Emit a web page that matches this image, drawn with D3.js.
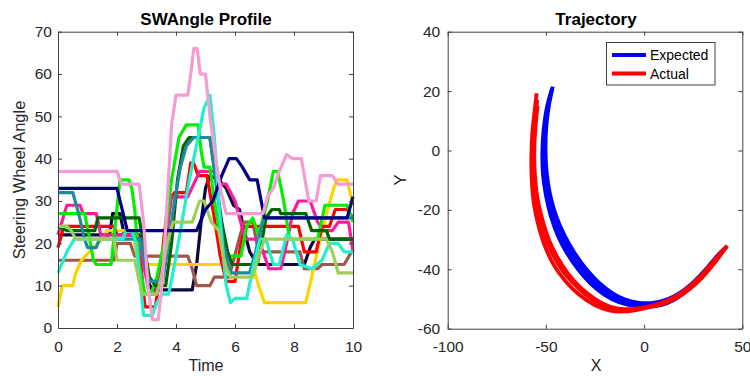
<!DOCTYPE html>
<html><head><meta charset="utf-8">
<script src="https://cdn.jsdelivr.net/npm/d3@7"></script>
<style>
body{margin:0;background:#fff}
svg{display:block}
text{font-family:"Liberation Sans",Arial,Helvetica,sans-serif}
</style>
</head><body>
<svg id="chart" width="750" height="376"></svg>
<script>
// ---------------- Left chart data: [time, steering wheel angle] ----------------
const timeTicks = [0, 2, 4, 6, 8, 10];
const angleTicks = [0, 10, 20, 30, 40, 50, 60, 70];

const darkNavy = [[0,22],[1.75,22],[1.85,27],[2.1,27],[2.25,22],[2.75,22],[2.9,16],[3.05,11],[3.2,9],[4.55,9],[4.7,15],[4.85,25],[5.0,33],[5.15,36],[5.45,35],[5.7,33],[5.95,29],[6.15,28],[6.35,22],[6.5,18],[6.75,15],[8.35,15],[8.55,19],[8.7,21],[10,21]];
const brown = [[0,16],[1.9,16],[2.0,20],[2.45,20],[2.6,17],[4.4,17],[4.55,14],[4.7,10],[5.15,10],[5.3,12],[5.8,12],[6.1,20],[6.3,25],[6.6,25],[6.8,18],[8.2,18],[8.35,14],[8.8,14],[8.95,15],[9.7,15],[9.95,18],[10,18]];
const yellow = [[0,5],[0.15,10],[0.5,10],[0.6,13],[0.8,16],[1.2,19],[1.5,21],[1.65,23],[2.5,23],[2.75,15],[6.6,15],[6.8,10],[7.0,6],[8.4,6],[8.6,12],[8.85,20],[9.1,27],[9.35,33],[9.45,35],[9.8,35],[9.9,32],[10,29]];
const red = [[0,19],[0.2,24],[1.9,24],[2.0,22],[2.7,22],[2.85,12],[2.95,5],[3.3,5],[3.45,12],[3.6,22],[3.75,30],[3.95,32],[4.35,32],[4.5,39],[4.6,39],[4.75,36],[5.05,36],[5.3,26],[5.5,17],[5.7,11],[6.0,11],[6.2,20],[6.35,24],[8.15,24],[8.35,18],[8.75,18],[8.95,24],[9.2,24],[9.4,28],[9.8,28],[10,26]];
const deepPink = [[0,22],[0.3,29],[0.75,29],[0.85,27],[1.3,27],[1.45,22],[2.7,22],[2.9,15],[3.1,8],[3.3,8],[3.5,15],[3.7,23],[3.85,31],[4.4,31],[4.6,34],[4.8,37],[5.3,37],[5.5,34],[5.7,34],[6.0,30],[6.35,21],[6.8,21],[7.15,14],[7.55,14],[7.75,20],[7.95,27],[8.15,30],[8.55,30],[8.8,25],[9.0,23],[9.3,23],[9.5,25],[9.85,25],[10,18]];
const green = [[0,27],[0.9,27],[1.05,22],[1.2,16],[1.3,15],[1.8,15],[1.95,25],[2.1,35],[2.4,35],[2.5,33],[2.6,28],[2.75,15],[2.95,8],[3.15,8],[3.35,12],[3.6,20],[3.85,35],[4.1,45],[4.35,48],[4.75,48],[4.85,42],[4.95,38],[5.15,38],[5.3,30],[5.5,22],[5.8,17],[6.2,17],[6.4,24],[6.6,26],[6.8,22],[7.1,30],[7.3,37],[7.45,37],[7.65,30],[7.85,21],[8.8,21],[9.05,29],[9.8,29],[10,25]];
const darkGreen = [[0,24],[0.3,23],[1.25,23],[1.35,26],[2.75,26],[2.9,20],[3.1,12],[3.3,10],[3.65,10],[3.85,20],[4.05,35],[4.25,43],[4.45,45],[5.15,45],[5.35,35],[5.55,25],[5.75,18],[5.9,15],[6.75,15],[6.9,20],[7.05,26],[7.25,28],[7.5,28],[7.55,27],[8.4,27],[8.6,23],[9.1,23],[9.2,21],[10,21]];
const teal = [[0,32],[0.5,32],[0.7,27],[0.9,21],[1.0,19],[1.3,19],[1.4,21],[2.8,21],[2.95,15],[3.1,11],[3.55,11],[3.75,20],[3.95,30],[4.15,38],[4.35,43],[4.6,45],[5.15,45],[5.35,35],[5.6,20],[5.85,13],[6.5,13],[6.7,18],[6.9,24],[7.0,26],[10,26]];
const aqua = [[0,13],[0.3,18],[0.55,21],[2.2,21],[2.3,23],[2.5,23],[2.65,20],[2.8,10],[2.9,3],[3.2,3],[3.35,6],[3.55,8],[3.75,8],[3.95,15],[4.2,25],[4.45,35],[4.75,45],[4.95,52],[5.15,55],[5.3,45],[5.5,25],[5.7,10],[5.85,6],[6.0,7],[6.4,7],[6.6,14],[6.85,21],[7.05,21],[7.3,15],[7.5,15],[7.75,22],[7.95,21],[8.2,15],[8.6,14],[8.95,16],[9.2,20],[9.5,20],[9.7,18],[10,18]];
const yellowGreen = [[0,24],[0.3,24],[0.45,23],[0.6,21],[1.9,21],[2.0,16],[2.6,16],[2.85,8],[3.35,8],[3.5,12],[3.7,20],[3.9,25],[4.55,25],[4.8,30],[4.95,30],[5.2,25],[5.45,23],[5.65,15],[5.85,12],[6.6,12],[6.8,17],[7.0,21],[9.1,21],[9.3,18],[9.5,13],[10,13]];
const navy = [[0,33],[2.0,33],[2.35,23],[4.7,23],[5.0,28],[5.25,30],[5.55,36],[5.8,40],[6.05,40],[6.25,38],[6.5,35],[6.75,35],[7.0,26],[9.8,26],[10,31]];
const lightPink = [[0,37],[2.0,37],[2.15,34],[2.75,34],[2.9,25],[3.05,10],[3.2,2],[3.4,2],[3.55,12],[3.7,30],[3.85,48],[4.0,55],[4.4,55],[4.5,60],[4.6,66],[4.72,66],[4.82,60],[5.0,60],[5.15,50],[5.35,40],[5.5,33],[5.7,27],[6.95,27],[7.1,31],[7.3,33],[7.5,37],[7.75,41],[7.95,40],[8.25,40],[8.5,30],[8.75,30],[8.9,36],[9.3,36],[9.5,34],[10,34]];

const leftSeries = [
  {data: darkNavy, color: "#08083e"},
  {data: brown, color: "#a0584b"},
  {data: yellow, color: "#ffd200"},
  {data: red, color: "#ff0000"},
  {data: deepPink, color: "#ff1a9c"},
  {data: green, color: "#00f000"},
  {data: darkGreen, color: "#006400"},
  {data: teal, color: "#1e8a9e"},
  {data: aqua, color: "#20f0cc"},
  {data: yellowGreen, color: "#9bcf5a"},
  {data: navy, color: "#000080"},
  {data: lightPink, color: "#f59bd5"}
];

// ---------------- Right chart data: [X, Y] ----------------
const xTicksR = [-100, -50, 0, 50];
const yTicksR = [-60, -40, -20, 0, 20, 40];

const expected1 = [[-46.5,21.5],[-48.5,15],[-49.8,8],[-50.2,0],[-49.5,-8],[-47.8,-15],[-44.8,-22],[-40.6,-28.5],[-35.4,-34.5],[-29.4,-40],[-23,-44.5],[-16.2,-48],[-9.3,-50.3],[-2.5,-51.3],[4.5,-51.3],[11.5,-50.2],[18,-48],[24,-45],[30,-41],[35,-37.2],[39,-34.2],[42,-32.5]];
const expected2 = [[-47,20.5],[-49.5,14.5],[-51,8],[-51.8,0],[-51.5,-8],[-50,-15],[-47.5,-22],[-44,-28.5],[-39.3,-34.5],[-33.6,-40],[-27.2,-44.8],[-20.3,-48.5],[-13,-51],[-5.5,-52.3],[2,-52.6],[9,-52],[15.5,-50.2],[21.5,-47.4],[27.5,-43.6],[32.5,-39.8],[37,-36.2],[41.5,-32.8]];
const expected3 = [[-46.8,21],[-49,14.8],[-50.4,8],[-51,0],[-50.5,-8],[-48.9,-15],[-46.1,-22],[-42.2,-28.5],[-37.3,-34.5],[-31.4,-40],[-25,-44.7],[-18.2,-48.3],[-11.1,-50.7],[-4,-51.8],[3.2,-52],[10.2,-51.1],[16.8,-49.1],[22.8,-46.2],[28.8,-42.3],[33.8,-38.5],[38,-35.2],[41.8,-32.6]];
const actual1 = [[-54.2,15],[-55.3,8],[-55.9,0],[-55.6,-8],[-54.3,-16],[-51.9,-23],[-48.5,-30],[-44.1,-36],[-38.7,-41.5],[-32.2,-46.3],[-24.9,-50],[-17.2,-52.6],[-9.5,-53.4],[-2.3,-53.1],[4.8,-52.1],[11.8,-50.7],[18.3,-48.5],[24.3,-45.5],[30.3,-41.6],[35.3,-37.7],[39.4,-34.5],[42,-32.3]];
const actual2 = [[-54.7,19.3],[-55.8,13],[-56.9,6],[-57.4,-2],[-57.2,-10],[-56.1,-18],[-53.9,-25],[-50.6,-32],[-46,-38.5],[-40,-44],[-33,-48.6],[-25.2,-52],[-17.3,-53.9],[-10,-54.2],[-3,-53.6],[4,-52.6],[11,-51.3],[17.5,-49.3],[23.5,-46.5],[29.5,-42.8],[34.5,-39],[38.8,-35.3],[42.3,-32]];
const actual3 = [[-54.4,17],[-55.5,10],[-56.4,2],[-56.5,-6],[-55.7,-14],[-53.8,-21],[-50.9,-28],[-46.9,-34.5],[-41.8,-40.2],[-35.5,-45],[-28.2,-49.3],[-20.4,-52.4],[-12.5,-53.8],[-5.5,-53.5],[1.5,-52.7],[8.5,-51.4],[15,-49.5],[21,-46.9],[27,-43.4],[32.5,-39.4],[37,-35.9],[41,-32.9]];

const legendLabels = ["Expected", "Actual"];
const expectedColor = "#0000ff", actualColor = "#ff0000";

// ---------------- Drawing ----------------
const svg = d3.select("#chart");
const axisColor = "#404040", textColor = "#262626";

function box(g, x, y, xt, yt, padX, padY) {
  const [x0, x1] = x.range(), [y0, y1] = y.range();
  const fmt = d => String(d);
  const gb = g.append("g").attr("transform", `translate(0,${y0})`)
    .call(d3.axisBottom(x).tickValues(xt).tickFormat(fmt).tickSizeInner(-4).tickSizeOuter(0).tickPadding(padX));
  const gt = g.append("g").attr("transform", `translate(0,${y1})`)
    .call(d3.axisTop(x).tickValues(xt).tickFormat("").tickSizeInner(-4).tickSizeOuter(0));
  const gl = g.append("g").attr("transform", `translate(${x0},0)`)
    .call(d3.axisLeft(y).tickValues(yt).tickFormat(fmt).tickSizeInner(-4).tickSizeOuter(0).tickPadding(padY));
  const gr = g.append("g").attr("transform", `translate(${x1},0)`)
    .call(d3.axisRight(y).tickValues(yt).tickFormat("").tickSizeInner(-4).tickSizeOuter(0));
  [gb, gt, gl, gr].forEach(a => {
    a.selectAll("path.domain").attr("stroke", axisColor).attr("stroke-width", 1);
    a.selectAll(".tick line").attr("stroke", axisColor).attr("stroke-width", 1);
    a.selectAll("text").attr("fill", textColor).style("font-size", "15.5px")
      .style("font-family", '"Liberation Sans", Arial, sans-serif');
  });
}

// Left chart
const xL = d3.scaleLinear().domain([0, 10]).range([58, 353]);
const yL = d3.scaleLinear().domain([0, 70]).range([328, 31.7]);
const gL = svg.append("g");
const lineL = d3.line().x(d => xL(d[0])).y(d => yL(d[1]));
gL.selectAll("path.series").data(leftSeries).join("path")
  .attr("class", "series")
  .attr("d", d => lineL(d.data))
  .attr("fill", "none")
  .attr("stroke", d => d.color)
  .attr("stroke-width", 3.2)
  .attr("stroke-linejoin", "round");
box(gL, xL, yL, timeTicks, angleTicks, 12.5, 6);
gL.append("text").attr("x", 206).attr("y", 25).attr("text-anchor", "middle")
  .style("font-size", "17px").style("font-weight", "bold").attr("fill", "#000").text("SWAngle Profile");
gL.append("text").attr("x", 206).attr("y", 371).attr("text-anchor", "middle")
  .style("font-size", "16px").attr("fill", textColor).text("Time");
gL.append("text").attr("transform", "translate(25,180) rotate(-90)").attr("text-anchor", "middle")
  .style("font-size", "16.5px").attr("fill", textColor).text("Steering Wheel Angle");

// Right chart
const xR = d3.scaleLinear().domain([-100, 50]).range([447.7, 742.3]);
const yR = d3.scaleLinear().domain([-60, 40]).range([328.7, 31.7]);
const gR = svg.append("g");
const lineR = d3.line().x(d => xR(d[0])).y(d => yR(d[1])).curve(d3.curveCatmullRom);
const traj = [
  {data: expected2, color: expectedColor},
  {data: expected3, color: expectedColor},
  {data: expected1, color: expectedColor},
  {data: actual2, color: actualColor},
  {data: actual3, color: actualColor},
  {data: actual1, color: actualColor}
];
gR.selectAll("path.traj").data(traj).join("path")
  .attr("class", "traj")
  .attr("d", d => lineR(d.data))
  .attr("fill", "none")
  .attr("stroke", d => d.color)
  .attr("stroke-width", 3.8)
  .attr("stroke-linecap", "butt");
box(gR, xR, yR, xTicksR, yTicksR, 12.5, 7.5);
gR.append("text").attr("x", 596).attr("y", 25).attr("text-anchor", "middle")
  .style("font-size", "17px").style("font-weight", "bold").attr("fill", "#000").text("Trajectory");
gR.append("text").attr("x", 596).attr("y", 371).attr("text-anchor", "middle")
  .style("font-size", "16px").attr("fill", textColor).text("X");
gR.append("text").attr("transform", "translate(406,180) rotate(-90)").attr("text-anchor", "middle")
  .style("font-size", "16.5px").attr("fill", textColor).text("Y");

// Legend
const lg = gR.append("g");
lg.append("rect").attr("x", 606.5).attr("y", 42.5).attr("width", 108.5).attr("height", 42.5)
  .attr("fill", "#fff").attr("stroke", axisColor).attr("stroke-width", 1);
legendLabels.forEach((lab, i) => {
  const yy = 55 + i * 18.5;
  lg.append("line").attr("x1", 612).attr("x2", 646).attr("y1", yy).attr("y2", yy)
    .attr("stroke", i === 0 ? expectedColor : actualColor).attr("stroke-width", 4);
  lg.append("text").attr("x", 650).attr("y", yy + 5).style("font-size", "14px")
    .attr("fill", "#000").text(lab);
});
</script>
</body></html>
